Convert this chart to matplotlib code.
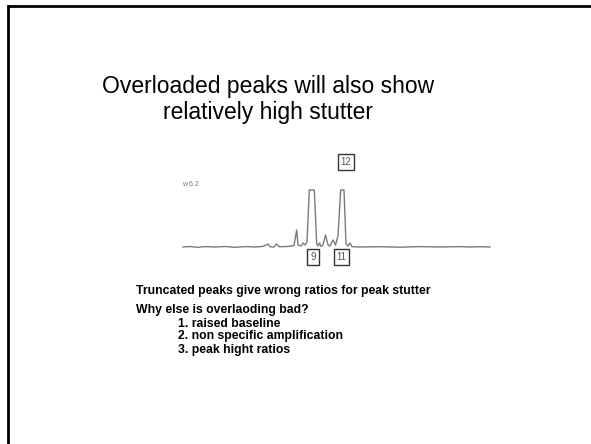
import matplotlib.pyplot as plt
from matplotlib.patches import Rectangle

# electropherogram trace (scan position, signal height)
trace_x = [0, 7, 15, 22, 32, 42, 52, 62, 72, 80, 85, 87, 91, 93.5, 96, 105, 111,
           113.7, 115, 118, 120, 122, 124, 126.3, 131.3, 133.7, 135, 136.5, 138,
           140, 142.5, 145, 147, 150, 152.5, 155, 157.7, 161, 163, 165, 167, 169,
           177, 197, 217, 237, 257, 277, 287, 297, 307]
trace_y = [0, 0.5, -0.3, 0.4, 0, 0.5, -0.3, 0.4, 0, 0.6, 3, 0.3, 0, 3, 0.3, 0.5, 1.5,
           17, 2, 1, 4, 2, 5, 57, 57, 3, 1, 4, 0.5,
           2, 12, 2, 1, 7, 2, 11, 57, 57, 3, 1, 4, 0.3,
           0, 0.3, -0.2, 0.4, 0, 0.4, 0, 0.3, 0]

alleles = ["9", "11", "12"]
allele_x = [130, 158.5, 163]
allele_y = [-10, -10, 85]

title = ["Overloaded peaks will also show", "relatively high stutter"]
note = "Truncated peaks give wrong ratios for peak stutter"
question = "Why else is overlaoding bad?"
reasons = ["1. raised baseline", "2. non specific amplification", "3. peak hight ratios"]

W, H = 591, 444
fig = plt.figure(figsize=(W / 100, H / 100), dpi=100)
plt.rcParams['font.family'] = ['Liberation Sans', 'DejaVu Sans']

# slide border (right and bottom edges fall outside the image)
fig.patches.append(Rectangle((7.5 / W, -0.2), 1.2, 1.2 - 6.5 / H,
                             transform=fig.transFigure, fill=False,
                             edgecolor='black', linewidth=2))

for i, line in enumerate(title):
    fig.text(268 / W, 1 - (86 + 27 * i) / H, line, ha='center', va='center',
             fontsize=16.5)

ax = fig.add_axes([183 / W, 1 - 247 / H, 307 / W, 57 / H])
ax.plot(trace_x, trace_y, color='#7a7a7a', linewidth=1, clip_on=False)
ax.set_xlim(0, 307)
ax.set_ylim(0, 57)
ax.axis('off')
for lab, x, y in zip(alleles, allele_x, allele_y):
    ax.text(x, y, lab, ha='center', va='center', fontsize=7, color='#555555',
            bbox=dict(boxstyle='square,pad=0.3', fc='white', ec='#333333', lw=1))
ax.text(-1, 63, "w 6.2", ha='left', va='center', fontsize=5, color='#777777')

fs = 8.8
fig.text(136 / W, 1 - 291 / H, note, ha='left', va='center', fontsize=fs,
         fontweight='bold')
fig.text(136 / W, 1 - 310 / H, question, ha='left', va='center', fontsize=fs,
         fontweight='bold')
for i, r in enumerate(reasons):
    fig.text(178 / W, 1 - (323.5 + 13 * i) / H, r, ha='left', va='center',
             fontsize=fs, fontweight='bold')

fig.savefig('out.png', dpi=100)
